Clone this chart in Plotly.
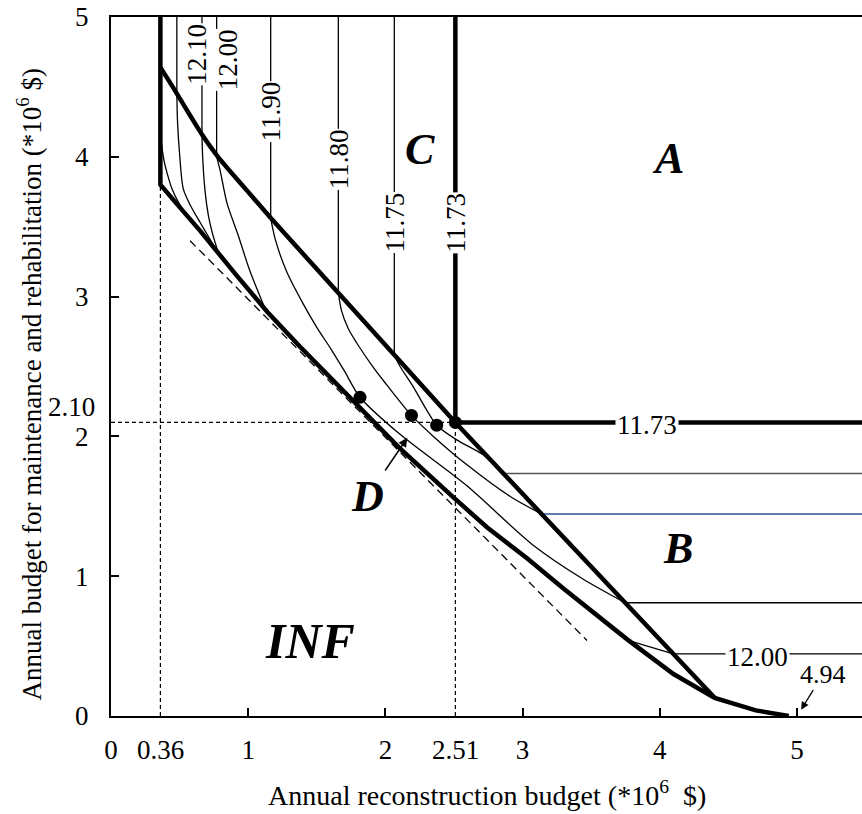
import plotly.graph_objects as go

# ---- feasible-band boundaries (x: reconstruction budget, y: M&R budget, 10^6 $) ----
upper_x = [0.36, 0.45, 0.50, 0.58, 0.663, 0.78, 0.99, 1.166, 2.51, 4.40]
upper_y = [4.64, 4.50, 4.42, 4.29, 4.16, 4.00, 3.76, 3.56, 2.10, 0.13]

lower_x = [0.36, 0.36, 0.50, 0.65, 0.90, 1.14, 1.38, 1.60, 2.10, 2.50, 2.74, 3.03, 3.30, 3.76, 4.10, 4.40, 4.70, 4.94]
lower_y = [5.00, 3.80, 3.64, 3.47, 3.17, 2.89, 2.64, 2.42, 1.92, 1.56, 1.35, 1.13, 0.91, 0.55, 0.30, 0.13, 0.04, 0.00]

# tangent (dashed) line
tangent_x = [0.576, 3.47]
tangent_y = [3.40, 0.54]

# optimum-cost contour (11.73)
opt_x = [2.51, 2.51, 5.48]
opt_y = [5.00, 2.10, 2.10]

# ---- iso-cost contours: vertical part, curved part, horizontal part ----
ca_x = [0.36, 0.368, 0.385, 0.41, 0.445, 0.50, 0.56, 0.634]
ca_y = [4.25, 4.10, 3.98, 3.88, 3.77, 3.66, 3.57, 3.49]

cb_x = [0.48, 0.48, 0.485, 0.50, 0.527, 0.58, 0.65, 0.71, 0.77]
cb_y = [5.00, 4.45, 4.25, 4.02, 3.77, 3.65, 3.53, 3.43, 3.33]

c1210_x = [0.663, 0.663, 0.668, 0.685, 0.71, 0.74, 0.78]
c1210_y = [5.00, 4.16, 4.00, 3.76, 3.58, 3.45, 3.32]

c1200_x = [0.77, 0.77, 0.795, 0.845, 0.93, 1.01, 1.12]
c1200_y = [5.00, 4.00, 3.905, 3.67, 3.43, 3.19, 2.92]
c1200b_x = [3.757, 4.098, 5.48]
c1200b_y = [0.544, 0.445, 0.445]

c1190_x = [1.164, 1.164, 1.20, 1.28, 1.40, 1.50, 1.60, 1.70, 1.815, 2.10, 2.59, 3.08, 3.44, 3.748, 5.48]
c1190_y = [5.00, 3.56, 3.40, 3.18, 2.95, 2.78, 2.63, 2.47, 2.28, 2.02, 1.65, 1.22, 0.98, 0.81, 0.81]

c1180_x = [1.657, 1.657, 1.68, 1.73, 1.79, 1.90, 1.985, 2.19, 2.35, 2.59, 2.91, 3.139, 5.48]
c1180_y = [5.00, 3.03, 2.90, 2.77, 2.67, 2.51, 2.40, 2.15, 2.00, 1.80, 1.57, 1.445, 1.445]

c1175_x = [2.065, 2.065, 2.107, 2.20, 2.30, 2.374, 2.52, 2.71, 2.86, 5.48]
c1175_y = [5.00, 2.58, 2.50, 2.36, 2.19, 2.08, 1.975, 1.87, 1.735, 1.735]

# minimum-cost points on the contours
dot_x = [1.815, 2.19, 2.374, 2.51]
dot_y = [2.28, 2.15, 2.08, 2.10]

# contour labels
vlab_text = ["12.10", "12.00", "11.90", "11.80", "11.75", "11.73"]
vlab_x = [0.627, 0.853, 1.17, 1.66, 2.07, 2.51]
vlab_y = [4.73, 4.69, 4.32, 3.98, 3.53, 3.53]
hlab_text = ["11.73", "12.00"]
hlab_x = [3.91, 4.71]
hlab_y = [2.10, 0.445]

# region letters
reg_text = ["A", "B", "C", "INF"]
reg_x = [4.06, 4.13, 2.25, 1.45]
reg_y = [3.99, 1.20, 4.05, 0.54]
reg_size = [44, 44, 44, 50]

x_ticks = [0, 1, 2, 3, 4, 5]
y_ticks = [0, 1, 2, 3, 4, 5]
x_marks = [0.36, 2.51]
y_mark = 2.10
x_end = 4.94

FONT = "Liberation Serif"
FS = 27
fig = go.Figure()


def line(x, y, width=1.3, color="black", dash="solid", shape="linear"):
    fig.add_trace(go.Scatter(x=x, y=y, mode="lines", hoverinfo="skip",
                             line=dict(color=color, width=width, dash=dash, shape=shape,
                                       smoothing=0.8)))


def contour(x, y, vertical=True, horizontal=True, tail_color="black", tail_width=1.3):
    a = 1 if vertical else 0
    b = len(x) - 2 if horizontal else len(x) - 1
    if vertical:
        line(x[:2], y[:2])
    line(x[a:b + 1], y[a:b + 1], shape="spline")
    if horizontal:
        line(x[b:], y[b:], color=tail_color, width=tail_width)


# reference dashed lines
line([x_marks[0], x_marks[0]], [0, 3.80], 1.2, dash="4px,3px")
line([x_marks[1], x_marks[1]], [0, y_mark], 1.2, dash="4px,3px")
line([0, x_marks[1]], [y_mark, y_mark], 1.2, dash="4px,3px")
line(tangent_x, tangent_y, 1.3, dash="8px,5px")

# thin contours
contour(ca_x, ca_y, vertical=False, horizontal=False)
contour(cb_x, cb_y, horizontal=False)
contour(c1210_x, c1210_y, horizontal=False)
contour(c1200_x, c1200_y, horizontal=False)
line(c1200b_x, c1200b_y)
contour(c1190_x, c1190_y)
contour(c1180_x, c1180_y, tail_color="#2e4f94", tail_width=1.4)
contour(c1175_x, c1175_y, tail_color="#555555", tail_width=1.6)

# thick boundaries
line(upper_x[:8], upper_y[:8], 4.5, shape="spline")
line(upper_x[7:], upper_y[7:], 4.5)
line(lower_x, lower_y, 4.5)
line(opt_x, opt_y, 4.5)

fig.add_trace(go.Scatter(x=dot_x, y=dot_y, mode="markers", hoverinfo="skip",
                         marker=dict(color="black", size=13)))

ann = []
for t, x, y in zip(vlab_text, vlab_x, vlab_y):
    ann.append(dict(x=x, y=y, text=t, showarrow=False, textangle=-90,
                    font=dict(family=FONT, size=FS, color="black"),
                    bgcolor="white", borderpad=0))
for t, x, y in zip(hlab_text, hlab_x, hlab_y):
    ann.append(dict(x=x, y=y, text=t, showarrow=False, yshift=-3,
                    font=dict(family=FONT, size=FS, color="black"),
                    bgcolor="white", borderpad=1))
for t, x, y, s in zip(reg_text, reg_x, reg_y, reg_size):
    ann.append(dict(x=x, y=y, text="<b><i>%s</i></b>" % t, showarrow=False,
                    font=dict(family=FONT, size=s, color="black")))

# D pointer
ann.append(dict(x=2.16, y=1.99, ax=1.87, ay=1.57, axref="x", ayref="y",
                text="<b><i>D</i></b>", showarrow=True, arrowhead=2,
                arrowsize=1.2, arrowwidth=1.5, arrowcolor="black",
                font=dict(family=FONT, size=44, color="black")))
# end of the curve
ann.append(dict(x=5.03, y=0.045, ax=5.19, ay=0.30, axref="x", ayref="y",
                text="%.2f" % x_end, showarrow=True, arrowhead=2,
                arrowsize=1.2, arrowwidth=1.3, arrowcolor="black",
                font=dict(family=FONT, size=FS - 1, color="black")))

# extra tick labels
for xv in x_marks:
    ann.append(dict(x=xv, y=0, yref="paper", text="%.2f" % xv, showarrow=False,
                    yanchor="middle", yshift=-34,
                    font=dict(family=FONT, size=FS, color="black")))
ann.append(dict(x=0, xref="paper", y=y_mark, text="%.2f" % y_mark, showarrow=False,
                xanchor="right", xshift=-14, yshift=15,
                font=dict(family=FONT, size=FS, color="black")))

# axis titles
ann.append(dict(x=0.5, xref="paper", y=0, yref="paper", yshift=-77, yanchor="middle",
                text="Annual reconstruction budget (*10<sup>6</sup>\u00a0 $)", showarrow=False,
                font=dict(family=FONT, size=28, color="black")))
ann.append(dict(x=0, xref="paper", xshift=-82, y=0.5, yref="paper", yshift=-18,
                xanchor="center", textangle=-90,
                text="Annual budget for maintenance and rehabilitation (*10<sup>6</sup> $)",
                showarrow=False, font=dict(family=FONT, size=FS, color="black")))

fig.update_layout(
    width=862, height=814,
    margin=dict(l=111, r=0, t=17, b=98),
    plot_bgcolor="white", paper_bgcolor="white",
    showlegend=False,
    annotations=ann,
    font=dict(family=FONT, size=FS, color="black"),
)
fig.update_xaxes(range=[0, 5.474], tickvals=x_ticks, ticks="inside", ticklen=8,
                 tickwidth=1.5, tickcolor="black", showline=True, linewidth=2,
                 linecolor="black", mirror=True, showgrid=False, zeroline=False,
                 ticklabelstandoff=9, tickfont=dict(family=FONT, size=FS))
fig.update_yaxes(range=[0, 5], tickvals=y_ticks, ticks="inside", ticklen=8,
                 tickwidth=1.5, tickcolor="black", showline=True, linewidth=2,
                 linecolor="black", showgrid=False, zeroline=False,
                 ticklabelstandoff=15, tickfont=dict(family=FONT, size=FS))

fig.write_html("out.html")
